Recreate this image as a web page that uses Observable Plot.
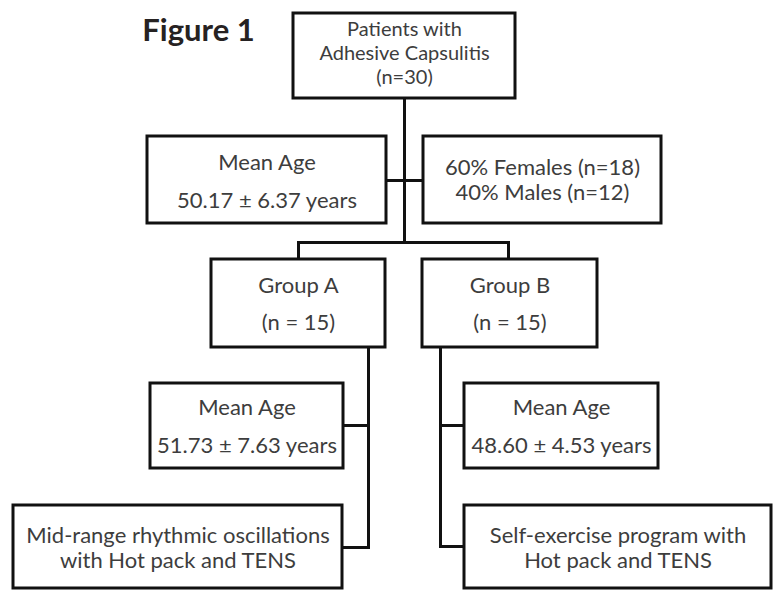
<!DOCTYPE html>
<html>
<head>
<meta charset="utf-8">
<script src="https://cdn.jsdelivr.net/npm/d3@7"></script>
<script src="https://cdn.jsdelivr.net/npm/@observablehq/plot@0.6"></script>
<style>
  html, body { margin: 0; padding: 0; background: #fff; }
  #chart svg { display: block; }
</style>
</head>
<body>
<div id="chart"></div>
<script>
// ---- Content (flowchart text) ----
const figureTitle = "Figure 1";
const nodeIds = ["top", "meanAll", "sex", "groupA", "groupB", "meanA", "meanB", "treatA", "treatB"];
const nodeLines = [
  ["Patients with", "Adhesive Capsulitis", "(n=30)"],
  ["Mean Age", "50.17 ± 6.37 years"],
  ["60% Females (n=18)", "40% Males (n=12)"],
  ["Group A", "(n = 15)"],
  ["Group B", "(n = 15)"],
  ["Mean Age", "51.73 ± 7.63 years"],
  ["Mean Age", "48.60 ± 4.53 years"],
  ["Mid-range rhythmic oscillations", "with Hot pack and TENS"],
  ["Self-exercise program with", "Hot pack and TENS"]
];

// ---- Layout (box extents in the page's coordinate space) ----
const boxX1 = [293, 147, 423, 211, 422, 150, 464, 13, 464];
const boxX2 = [515, 386, 661, 385, 597, 343, 658, 342, 771];
const boxY1 = [13, 136, 136, 259, 259, 383, 383, 505, 505];
const boxY2 = [98, 223, 223, 347, 347, 468, 468, 588, 588];
// vertical centres of each text line, and font size per box
const lineY = [
  [29, 53, 77],
  [162, 200],
  [167, 192],
  [285, 322],
  [285, 322],
  [407, 445],
  [407, 445],
  [535, 560],
  [535, 560]
];
const nodeFont = [20, 22, 22, 22, 22, 22, 22, 22, 22];

// connectors: [x1, y1, x2, y2]
const connectors = [
  [404, 98, 404, 242],
  [386, 180, 423, 180],
  [298, 242, 508, 242],
  [298, 242, 298, 259],
  [508, 242, 508, 259],
  [368, 347, 368, 547],
  [343, 425, 368, 425],
  [342, 547, 368, 547],
  [440, 347, 440, 546],
  [440, 425, 464, 425],
  [440, 546, 464, 546]
];

// ---- Build tables ----
const boxes = nodeIds.map((id, i) => ({id, x1: boxX1[i], x2: boxX2[i], y1: boxY1[i], y2: boxY2[i]}));
const texts = nodeIds.flatMap((id, i) => nodeLines[i].map((t, j) => ({
  text: t, x: (boxX1[i] + boxX2[i]) / 2, y: lineY[i][j], size: nodeFont[i]
})));
const links = connectors.map(([x1, y1, x2, y2]) => ({x1, y1, x2, y2}));

const W = 774, H = 591;
const chart = Plot.plot({
  width: W,
  height: H,
  margin: 0,
  x: {domain: [0, W], axis: null},
  y: {domain: [0, H], axis: null, reverse: true},
  style: {background: "#fff", fontFamily: "Lato, 'Open Sans', sans-serif"},
  marks: [
    Plot.link(links, {x1: "x1", y1: "y1", x2: "x2", y2: "y2", stroke: "#111", strokeWidth: 3, strokeLinecap: "square"}),
    Plot.rect(boxes, {x1: "x1", x2: "x2", y1: "y1", y2: "y2", fill: "#fff", stroke: "#111", strokeWidth: 3}),
    Plot.text(texts.filter(d => d.size === 20), {x: "x", y: "y", text: "text", fill: "#3d3d3d", fontSize: 20, lineAnchor: "middle", textAnchor: "middle"}),
    Plot.text(texts.filter(d => d.size === 22), {x: "x", y: "y", text: "text", fill: "#3d3d3d", fontSize: 22, lineAnchor: "middle", textAnchor: "middle"}),
    Plot.text([figureTitle], {x: [198], y: [31], text: d => d, fill: "#262222", fontSize: 31, fontWeight: "bold", lineAnchor: "middle", textAnchor: "middle"})
  ]
});
document.getElementById("chart").appendChild(chart);
</script>
</body>
</html>
